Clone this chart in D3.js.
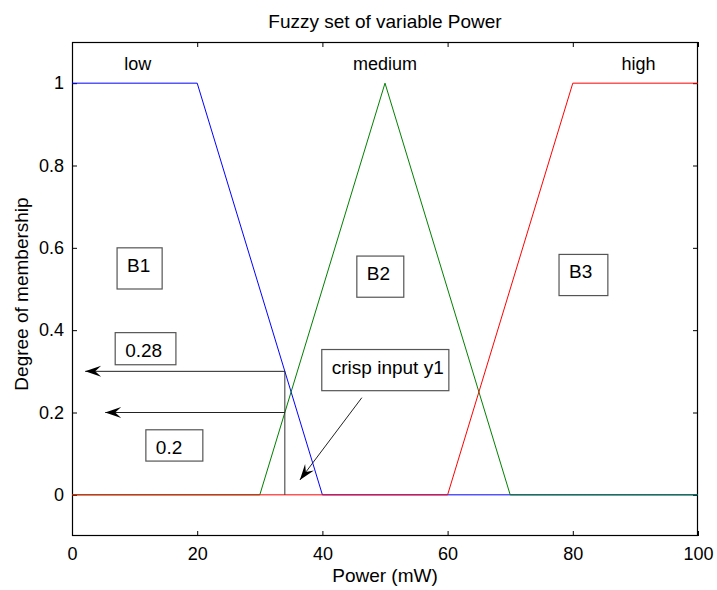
<!DOCTYPE html>
<html>
<head>
<meta charset="utf-8">
<script src="https://cdn.jsdelivr.net/npm/d3@7/dist/d3.min.js"></script>
<style>
  body { margin: 0; background: #fff; }
  svg { display: block; font-family: "Liberation Sans", Arial, sans-serif; }
</style>
</head>
<body>
<svg id="chart" width="717" height="590"></svg>
<script>
// membership functions of Power, as [x, degree] breakpoints
var lowSet = [[0, 1], [20, 1], [40, 0], [100, 0]];
var mediumSet = [[0, 0], [30, 0], [50, 1], [70, 0], [100, 0]];
var highSet = [[0, 0], [60, 0], [80, 1], [100, 1]];
var setNames = ['low', 'medium', 'high'];
var setNameX = [10.5, 50, 90.5];

var xTicks = [0, 20, 40, 60, 80, 100];
var yTicks = [0, 0.2, 0.4, 0.6, 0.8, 1];

// crisp input and the degrees it gives
var crispInput = 34;
var degreeLow = 0.3;
var degreeMedium = 0.2;

// labelled boxes, corners in data units
var notes = [
  { text: 'B1', x0: 7.2, y0: 0.60, x1: 14.4, y1: 0.50 },
  { text: '0.28', x0: 6.9, y0: 0.394, x1: 16.6, y1: 0.316 },
  { text: '0.2', x0: 11.8, y0: 0.158, x1: 20.9, y1: 0.082 },
  { text: 'B2', x0: 45.5, y0: 0.58, x1: 53.0, y1: 0.48 },
  { text: 'B3', x0: 77.8, y0: 0.584, x1: 85.6, y1: 0.484 },
  { text: 'crisp input y1', x0: 39.9, y0: 0.353, x1: 60.2, y1: 0.253 }
];

var svg = d3.select('#chart');
var margin = { top: 42, right: 19, bottom: 54, left: 72 };
var width = 717 - margin.left - margin.right;
var height = 590 - margin.top - margin.bottom;

var x = d3.scaleLinear().domain([0, 100]).range([0, width]);
var y = d3.scaleLinear().domain([-0.1, 1.1]).range([height, 0]);

var g = svg.append('g')
  .attr('transform', 'translate(' + margin.left + ',' + margin.top + ')');

// MATLAB-ish box: ticks point inward on every side
function styleAxis(sel) {
  sel.select('.domain').remove();
  sel.selectAll('.tick line').attr('stroke', '#000');
  sel.selectAll('.tick text')
    .attr('fill', '#000')
    .style('font-size', '18px')
    .style('font-family', '"Liberation Sans", Arial, sans-serif');
}

g.append('g')
  .attr('transform', 'translate(0,' + height + ')')
  .call(d3.axisBottom(x).tickValues(xTicks).tickSize(-5).tickPadding(11))
  .call(styleAxis);
g.append('g')
  .call(d3.axisTop(x).tickValues(xTicks).tickSize(-5).tickFormat(''))
  .call(styleAxis);
g.append('g')
  .call(d3.axisLeft(y).tickValues(yTicks).tickSize(-5).tickPadding(8).tickFormat(d3.format('~g')))
  .call(styleAxis);
g.append('g')
  .attr('transform', 'translate(' + width + ',0)')
  .call(d3.axisRight(y).tickValues(yTicks).tickSize(-5).tickFormat(''))
  .call(styleAxis);

g.append('rect')
  .attr('x', 0.5).attr('y', 0.5)
  .attr('width', width - 1).attr('height', height - 1)
  .attr('fill', 'none')
  .attr('stroke', '#000')
  .attr('stroke-width', 1.2);

var line = d3.line()
  .x(function (d) { return x(d[0]); })
  .y(function (d) { return y(d[1]); });

var sets = [
  { pts: lowSet, color: '#0000ff' },
  { pts: mediumSet, color: '#008000' },
  { pts: highSet, color: '#ff0000' }
];

g.selectAll('.mf')
  .data(sets)
  .enter().append('path')
  .attr('class', 'mf')
  .attr('d', function (d) { return line(d.pts); })
  .attr('fill', 'none')
  .attr('stroke', function (d) { return d.color; })
  .attr('stroke-width', 1);

g.selectAll('.set-name')
  .data(setNames)
  .enter().append('text')
  .attr('class', 'set-name')
  .attr('x', function (d, i) { return x(setNameX[i]); })
  .attr('y', 28)
  .attr('text-anchor', 'middle')
  .style('font-size', '18px')
  .text(function (d) { return d; });

// crisp input line and the two projected degrees
g.append('line')
  .attr('x1', x(crispInput)).attr('x2', x(crispInput))
  .attr('y1', y(0)).attr('y2', y(degreeLow))
  .attr('stroke', '#333').attr('stroke-width', 1);

function arrow(x1, y1, x2, y2) {
  var ang = Math.atan2(y2 - y1, x2 - x1) * 180 / Math.PI;
  g.append('line')
    .attr('x1', x1).attr('y1', y1).attr('x2', x2).attr('y2', y2)
    .attr('stroke', '#222').attr('stroke-width', 1);
  g.append('path')
    .attr('d', 'M0,0L-16,-5.5L-10,0L-16,5.5Z')
    .attr('transform', 'translate(' + x2 + ',' + y2 + ') rotate(' + ang + ')')
    .attr('fill', '#000');
}

arrow(x(crispInput), y(degreeLow), x(2.1), y(degreeLow));
arrow(x(crispInput), y(degreeMedium), x(5.3), y(degreeMedium));
arrow(x(46.3), y(0.236), x(36.4), y(0.036));

var note = g.selectAll('.note')
  .data(notes)
  .enter().append('g')
  .attr('class', 'note');

note.append('rect')
  .attr('x', function (d) { return x(d.x0); })
  .attr('y', function (d) { return y(d.y0); })
  .attr('width', function (d) { return x(d.x1) - x(d.x0); })
  .attr('height', function (d) { return y(d.y1) - y(d.y0); })
  .attr('fill', '#fff')
  .attr('stroke', '#555')
  .attr('stroke-width', 1.2);

note.append('text')
  .attr('x', function (d) { return x(d.x0) + 10; })
  .attr('y', function (d) { return y(d.y0) + 24; })
  .style('font-size', '19px')
  .text(function (d) { return d.text; });

// titles
svg.append('text')
  .attr('x', margin.left + width / 2)
  .attr('y', 28)
  .attr('text-anchor', 'middle')
  .style('font-size', '19px')
  .text('Fuzzy set of variable Power');

svg.append('text')
  .attr('x', margin.left + width / 2)
  .attr('y', 582)
  .attr('text-anchor', 'middle')
  .style('font-size', '19px')
  .text('Power (mW)');

svg.append('text')
  .attr('transform', 'translate(28,294) rotate(-90)')
  .attr('text-anchor', 'middle')
  .style('font-size', '19px')
  .text('Degree of membership');
</script>
</body>
</html>
